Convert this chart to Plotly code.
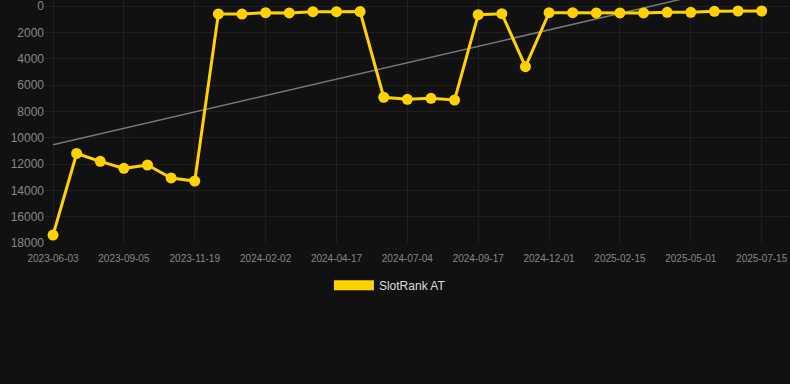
import numpy as np
import plotly.graph_objects as go

dates = [
    "2023-06-03", "2023-07-04", "2023-08-04", "2023-09-05", "2023-09-30", "2023-10-25",
    "2023-11-19", "2023-12-14", "2024-01-08", "2024-02-02", "2024-02-27", "2024-03-23",
    "2024-04-17", "2024-05-13", "2024-06-08", "2024-07-04", "2024-07-29", "2024-08-23",
    "2024-09-17", "2024-10-12", "2024-11-06", "2024-12-01", "2024-12-26", "2025-01-21",
    "2025-02-15", "2025-03-12", "2025-04-06", "2025-05-01", "2025-05-26", "2025-06-20",
    "2025-07-15",
]
rank = [
    17400, 11200, 11800, 12330, 12075, 13060, 13290, 600, 610, 510, 530, 430, 430, 420,
    6930, 7090, 7010, 7140, 660, 585, 4610, 510, 510, 530, 530, 530, 480, 480, 405, 380, 380,
]
tick_labels = dates[::3]
y_ticks = [0, 2000, 4000, 6000, 8000, 10000, 12000, 14000, 16000, 18000]

idx = np.arange(len(rank))
slope, intercept = np.polyfit(idx, rank, 1)
trend = [intercept + slope * i for i in idx]

fig = go.Figure()
fig.add_trace(go.Scatter(
    x=dates, y=trend, mode="lines",
    line=dict(color="#777777", width=1.5),
    showlegend=False, hoverinfo="skip",
))
fig.add_trace(go.Scatter(
    x=dates, y=rank, mode="lines+markers",
    line=dict(color="#FFD200", width=3),
    marker=dict(color="#FFD200", size=11),
    showlegend=False, cliponaxis=False,
))
fig.add_trace(go.Scatter(
    x=[None], y=[None], mode="lines", name="SlotRank AT",
    line=dict(color="#FFD200", width=11),
    showlegend=True,
))

fig.update_layout(
    width=790, height=384,
    paper_bgcolor="#111111", plot_bgcolor="#111111",
    margin=dict(l=45, r=0, t=0, b=141),
    font=dict(family="Liberation Sans, Arial, sans-serif", color="#888888", size=11),
    legend=dict(
        orientation="h", x=0.463, xanchor="center", y=-0.114, yanchor="top",
        font=dict(color="#dddddd", size=12), itemwidth=40,
        bgcolor="rgba(0,0,0,0)",
    ),
    xaxis=dict(
        type="category", range=[-0.34, 31.2],
        tickvals=tick_labels, ticktext=tick_labels,
        showgrid=True, gridcolor="#1f1f1f", gridwidth=1,
        zeroline=False, showline=False,
        tickfont=dict(size=10, color="#888888"),
        ticks="", ticklen=0, ticklabelstandoff=8,
        ticklabeloverflow="allow",
    ),
    yaxis=dict(
        range=[18000, -456], tickvals=y_ticks,
        showgrid=True, gridcolor="#1f1f1f", gridwidth=1,
        zeroline=False, showline=False,
        tickfont=dict(size=12, color="#888888"),
        ticks="", ticklen=0, tickformat="d",
        ticklabeloverflow="allow",
    ),
)
fig.write_html("out.html", config={"displayModeBar": False},
               post_script="document.body.style.margin='0';")
